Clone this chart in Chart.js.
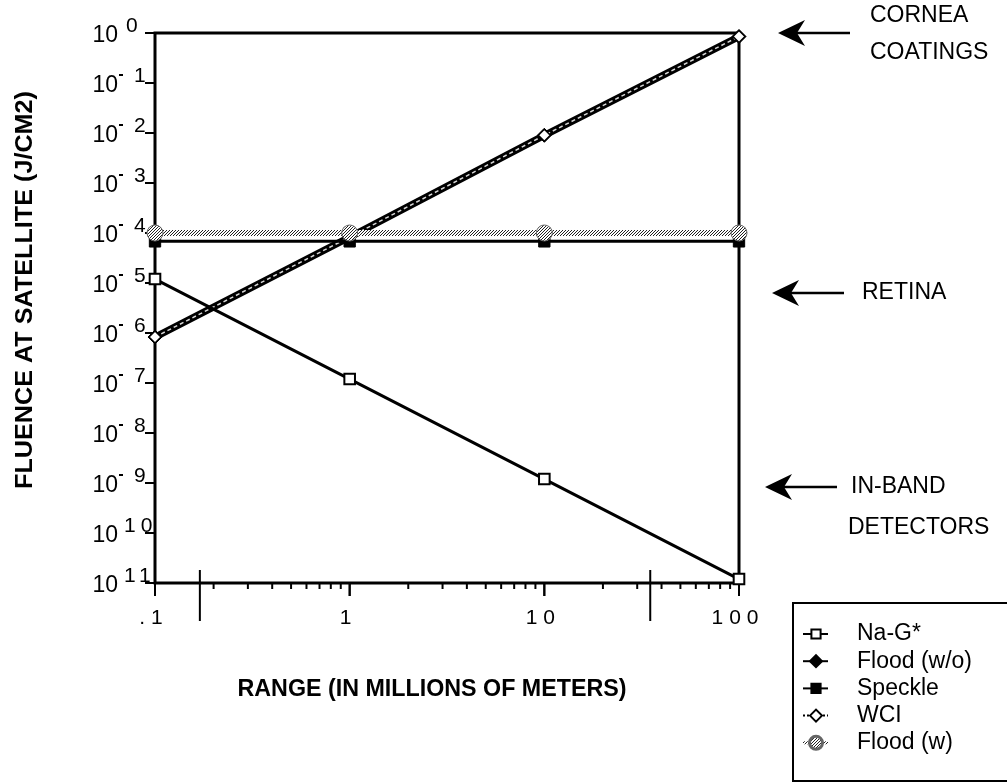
<!DOCTYPE html>
<html>
<head>
<meta charset="utf-8">
<script src="https://cdn.jsdelivr.net/npm/chart.js@4.4.1/dist/chart.umd.min.js"></script>
<style>
  html, body { margin: 0; padding: 0; background: #fff; }
  #wrap { width: 1007px; height: 783px; }
</style>
</head>
<body>
<div id="wrap"><canvas id="chart" width="1007" height="783"></canvas></div>
<script>
"use strict";
// range in millions of meters
var ranges = [0.1, 1, 10, 100];
// fluence at satellite (J/cm2)
var naG = [1.2e-5, 1.2e-7, 1.2e-9, 1.2e-11];
var floodWo = [8.3e-7, 8.3e-5, 9e-3, 0.85];
var speckle = [6.8e-5, 6.8e-5, 6.8e-5, 6.8e-5];
var wci = [8.3e-7, 8.3e-5, 9e-3, 0.85];
var floodW = [1e-4, 1e-4, 1e-4, 1e-4];

var seriesLabels = ['Na-G*', 'Flood (w/o)', 'Speckle', 'WCI', 'Flood (w)'];
var xTickValues = [0.1, 1, 10, 100];
var xTickLabels = ['.1', '1', '10', '100'];
var yExponents = [0, -1, -2, -3, -4, -5, -6, -7, -8, -9, -10, -11];

// damage thresholds marked on the right
var notes = [
    { lines: ['CORNEA', 'COATINGS'], value: 1 },
    { lines: ['RETINA'], value: 6.3e-6 },
    { lines: ['IN-BAND', 'DETECTORS'], value: 8.3e-10 }
];

var FONT = '"Liberation Sans", Arial, Helvetica, sans-serif';

function pts(values) {
    return ranges.map(function (r, i) { return { x: r, y: values[i] }; });
}

function makePattern(dark, light, size) {
    var c = document.createElement('canvas');
    c.width = size; c.height = size;
    var g = c.getContext('2d');
    g.fillStyle = light;
    g.fillRect(0, 0, size, size);
    g.fillStyle = dark;
    g.fillRect(0, 0, 1, 1);
    g.fillRect(2, 1, 1, 1);
    g.fillRect(1, 2, 1, 1);
    return g.createPattern(c, 'repeat');
}

var hatch = makePattern('#222', '#fff', 3);

function txt(ctx, s, x, y, font, align, width, spacing) {
    ctx.save();
    ctx.font = font;
    ctx.textBaseline = 'middle';
    ctx.textAlign = align || 'left';
    if (spacing) {
        ctx.letterSpacing = spacing + 'px';
        if (align === 'center') x += spacing / 2;
    }
    var k = 1;
    if (width) k = width / ctx.measureText(s).width;
    ctx.translate(x, y);
    ctx.scale(k, 1);
    ctx.fillStyle = '#000';
    ctx.fillText(s, 0, 0);
    ctx.restore();
}

function arrow(ctx, tipX, y, endX) {
    ctx.save();
    ctx.fillStyle = '#000';
    ctx.strokeStyle = '#000';
    ctx.lineWidth = 2.5;
    ctx.beginPath();
    ctx.moveTo(tipX + 18, y);
    ctx.lineTo(endX, y);
    ctx.stroke();
    ctx.beginPath();
    ctx.moveTo(tipX, y);
    ctx.lineTo(tipX + 27, y - 13);
    ctx.lineTo(tipX + 19, y);
    ctx.lineTo(tipX + 27, y + 13);
    ctx.closePath();
    ctx.fill();
    ctx.restore();
}

var axesPlugin = {
    id: 'axesPlugin',
    beforeDatasetsDraw: function (chart) {
        var ctx = chart.ctx, a = chart.chartArea;
        var xs = chart.scales.x, ys = chart.scales.y;
        ctx.save();
        ctx.strokeStyle = '#000';
        ctx.lineWidth = 3;
        ctx.strokeRect(a.left, a.top, a.right - a.left, a.bottom - a.top);

        // y decade ticks
        ctx.lineWidth = 2;
        yExponents.forEach(function (e) {
            var y = ys.getPixelForValue(Math.pow(10, e));
            ctx.beginPath();
            ctx.moveTo(a.left - 10, y);
            ctx.lineTo(a.left, y);
            ctx.stroke();
        });

        // x minor and major ticks
        for (var d = 0.1; d < 100; d *= 10) {
            for (var m = 1; m <= 10; m++) {
                var x = xs.getPixelForValue(d * m);
                var len = (m === 1 || m === 10) ? 13 : 6;
                ctx.beginPath();
                ctx.moveTo(x, a.bottom);
                ctx.lineTo(x, a.bottom + len);
                ctx.stroke();
            }
        }

        // cut marks on the range axis
        [0.17, 35].forEach(function (v) {
            var x = xs.getPixelForValue(v);
            ctx.beginPath();
            ctx.moveTo(x, a.bottom - 13);
            ctx.lineTo(x, a.bottom + 38);
            ctx.stroke();
        });
        ctx.restore();
    },
    afterDraw: function (chart) {
        var ctx = chart.ctx;
        var xs = chart.scales.x, ys = chart.scales.y;

        // y tick labels 10^n
        yExponents.forEach(function (e) {
            var y = ys.getPixelForValue(Math.pow(10, e));
            txt(ctx, '10', 118, y + 3, '23px ' + FONT, 'right');
            var ex = String(Math.abs(e));
            if (e < 0 && ex.length === 1) {
                ctx.fillStyle = '#000';
                ctx.fillRect(119, y - 9, 4, 2);
            }
            var left = e === 0 ? 126 : (ex.length > 1 ? 124 : 134);
            txt(ctx, ex, left, y - 7, '21px ' + FONT, 'left', null, ex.length > 1 ? 5 : 0);
        });

        // x tick labels
        xTickValues.forEach(function (v, i) {
            var x = xs.getPixelForValue(v);
            txt(ctx, xTickLabels[i], x - 4, 618, '21px ' + FONT, 'center', null, 6);
        });

        // axis titles
        txt(ctx, 'RANGE (IN MILLIONS OF METERS)', 432, 690, 'bold 23px ' + FONT, 'center', 389);
        ctx.save();
        ctx.translate(25, 290);
        ctx.rotate(-Math.PI / 2);
        txt(ctx, 'FLUENCE AT SATELLITE (J/CM2)', 0, 0, 'bold 24px ' + FONT, 'center', 398);
        ctx.restore();

        // threshold notes
        notes.forEach(function (n, i) {
            var y = ys.getPixelForValue(n.value);
            var tip = [778, 772, 765][i];
            arrow(ctx, tip, y, tip + 72);
            if (n.lines.length === 1) {
                txt(ctx, n.lines[0], 862, y, '23px ' + FONT, 'left');
            } else {
                var top = i === 0 ? 16 : y;
                txt(ctx, n.lines[0], i === 0 ? 870 : 851, top, '23px ' + FONT, 'left');
                txt(ctx, n.lines[1], i === 0 ? 870 : 848, top + (i === 0 ? 37 : 41), '23px ' + FONT, 'left');
            }
        });

        // legend
        ctx.save();
        ctx.strokeStyle = '#000';
        ctx.lineWidth = 2;
        ctx.strokeRect(793, 603, 230, 178);
        chart.data.datasets.forEach(function (ds, i) {
            var y = 634 + i * 27.2;
            ctx.save();
            ctx.strokeStyle = i === 3 ? '#000' : ds.borderColor;
            ctx.lineWidth = i === 4 ? 3 : 2;
            ctx.setLineDash(i === 3 ? [2, 2] : []);
            ctx.beginPath();
            ctx.moveTo(803, y);
            ctx.lineTo(828, y);
            ctx.stroke();
            ctx.setLineDash([]);
            ctx.fillStyle = ds.pointBackgroundColor;
            ctx.strokeStyle = ds.pointBorderColor;
            Chart.helpers.drawPoint(ctx, {
                pointStyle: ds.pointStyle,
                radius: ds.pointStyle === 'rectRot' ? 6 : 6.5,
                borderWidth: 1.5,
                rotation: 0
            }, 816, y);
            ctx.restore();
            txt(ctx, seriesLabels[i], 857, y, '23px ' + FONT, 'left');
        });
        ctx.restore();
    }
};

var ctx = document.getElementById('chart');
new Chart(ctx, {
    type: 'line',
    data: {
        datasets: [{
            label: seriesLabels[0],
            data: pts(naG),
            borderColor: '#000',
            borderWidth: 3,
            pointStyle: 'rect',
            pointRadius: 7.5,
            pointBorderWidth: 2,
            pointBackgroundColor: '#fff',
            pointBorderColor: '#000',
            order: 0
        }, {
            label: seriesLabels[1],
            data: pts(floodWo),
            borderColor: '#000',
            borderWidth: 7,
            pointStyle: 'rectRot',
            pointRadius: 7,
            pointBorderWidth: 1,
            pointBackgroundColor: '#000',
            pointBorderColor: '#000',
            order: 4
        }, {
            label: seriesLabels[2],
            data: pts(speckle),
            borderColor: '#000',
            borderWidth: 3,
            pointStyle: 'rect',
            pointRadius: 8,
            pointBorderWidth: 1,
            pointBackgroundColor: '#000',
            pointBorderColor: '#000',
            order: 2
        }, {
            label: seriesLabels[3],
            data: pts(wci),
            borderColor: '#d8d8d8',
            borderWidth: 1.5,
            borderDash: [4, 3],
            pointStyle: 'rectRot',
            pointRadius: 6,
            pointBorderWidth: 1.5,
            pointBackgroundColor: '#fff',
            pointBorderColor: '#000',
            order: 3
        }, {
            label: seriesLabels[4],
            data: pts(floodW),
            borderColor: hatch,
            borderWidth: 6,
            pointStyle: 'circle',
            pointRadius: 8,
            pointBorderWidth: 1,
            pointBackgroundColor: hatch,
            pointBorderColor: '#666',
            order: 1
        }]
    },
    options: {
        responsive: false,
        devicePixelRatio: 1,
        animation: false,
        layout: { padding: { left: 155, right: 268, top: 33, bottom: 200 } },
        elements: { line: { tension: 0 } },
        datasets: { line: { clip: false } },
        plugins: {
            legend: { display: false },
            tooltip: { enabled: false },
            title: { display: false }
        },
        scales: {
            x: { type: 'logarithmic', min: 0.1, max: 100, display: false },
            y: { type: 'logarithmic', min: 1e-11, max: 1, display: false }
        }
    },
    plugins: [axesPlugin]
});
</script>
</body>
</html>
